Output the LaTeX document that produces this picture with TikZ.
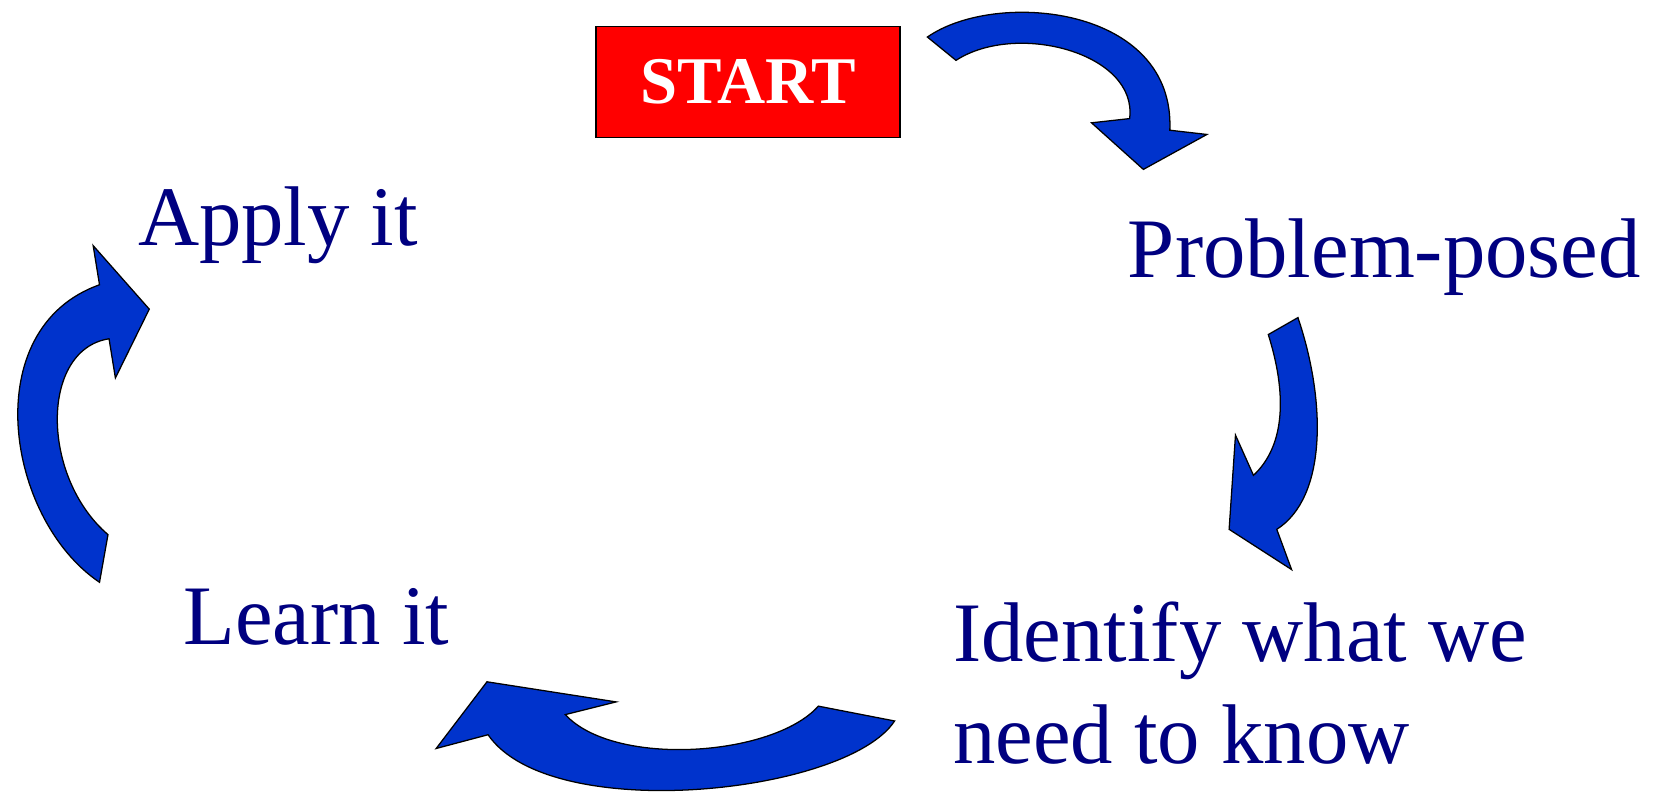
\documentclass[tikz,border=0pt]{standalone}
\usepackage{fontspec}
\setmainfont{Liberation Serif}
\definecolor{navytext}{HTML}{000080}
\definecolor{arrowblue}{HTML}{0033CC}
\definecolor{startred}{HTML}{FF0000}
\tikzset{
  bigarrow/.style={fill=arrowblue, draw=black, line width=0.6pt, line join=miter},
  label/.style={text=navytext, font=\fontsize{40}{48}\selectfont, inner sep=0pt, anchor=base west},
  startbox/.style={fill=startred, draw=black, line width=0.6pt, minimum width=143.5pt, minimum height=52.5pt, inner sep=0pt,
    text=white, font=\fontsize{31.5}{36}\selectfont\bfseries}
}
\begin{document}
\begin{tikzpicture}[x=0.5pt,y=-0.5pt]
\useasboundingbox (0,0) rectangle (1568,750);

\node[startbox] (start) at (706.5,77.5) {START};

\node[label] (apply) at (130,232) {Apply it};
\node[label] (problem) at (1065,262) {Problem-posed};
\node[label] (identify1) at (900,625) {Identify what we};
\node[label] (identify2) at (900,721) {need to know};
\node[label] (learn) at (173,609) {Learn it};

% top arrow
\draw[bigarrow] (876,35) .. controls (940,-10) and (1110,5) .. (1105,123)
  -- (1140,127) -- (1080,160) -- (1031,116) -- (1067,112)
  .. controls (1075,50) and (960,20) .. (903,57) -- cycle;

% right arrow
\draw[bigarrow] (1226,300) .. controls (1253,380) and (1253,470) .. (1206,500)
  -- (1220,538) -- (1161,500) -- (1167,411) -- (1184,449)
  .. controls (1215,420) and (1215,370) .. (1198,316) -- cycle;

% bottom arrow
\draw[bigarrow] (845,681) .. controls (800,750) and (520,780) .. (461,694)
  -- (412,707) -- (460,644) -- (582,663) -- (534,675)
  .. controls (580,725) and (730,715) .. (773,667) -- cycle;

% left arrow
\draw[bigarrow] (94,550) .. controls (5,490) and (-22,310) .. (94,269)
  -- (88,232) -- (141,292) -- (109,357) -- (103,320)
  .. controls (38,330) and (38,450) .. (102,505) -- cycle;
\end{tikzpicture}
\end{document}
